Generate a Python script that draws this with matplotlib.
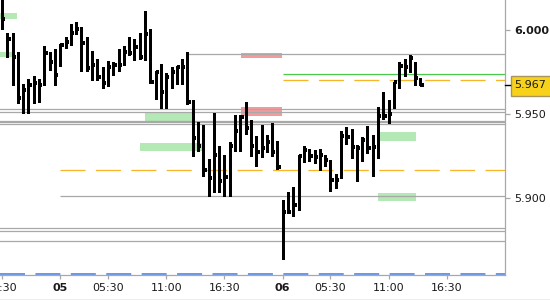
import matplotlib
matplotlib.use('Agg')
import matplotlib.pyplot as plt
from matplotlib.patches import Rectangle
from matplotlib.lines import Line2D

plt.rcParams['lines.scale_dashes'] = False
plt.rcParams['font.family'] = ['DejaVu Sans']

# ---- OHLC data (30-min bars) ----
highs = [6.0190, 5.9980, 5.9980, 5.9871, 5.9677, 5.9706, 5.9726, 5.9706, 5.9905, 5.9871,
         5.9885, 5.9917, 5.9960, 6.0036, 6.0046, 6.0016, 5.9960, 5.9877, 5.9826, 5.9782,
         5.9816, 5.9810, 5.9887, 5.9905, 5.9960, 5.9944, 5.9980, 6.0115, 6.0004, 5.9758,
         5.9796, 5.9742, 5.9782, 5.9788, 5.9826, 5.9871, 5.9583, 5.9450, 5.9435, 5.9232,
         5.9504, 5.9310, 5.9256, 5.9331, 5.9494, 5.9494, 5.9569, 5.9464, 5.9369, 5.9435,
         5.9375, 5.9448, 5.9339, 5.8988, 5.9034, 5.9068, 5.9256, 5.9310, 5.9290, 5.9286,
         5.9292, 5.9256, 5.9226, 5.9141, 5.9401, 5.9421, 5.9409, 5.9315, 5.9365, 5.9429,
         5.9375, 5.9544, 5.9633, 5.9583, 5.9692, 5.9812, 5.9827, 5.9851, 5.9812, 5.9712]
lows = [6.0004, 5.9841, 5.9673, 5.9564, 5.9504, 5.9504, 5.9564, 5.9573, 5.9673, 5.9762,
        5.9673, 5.9786, 5.9891, 5.9911, 5.9974, 5.9758, 5.9758, 5.9702, 5.9702, 5.9653,
        5.9667, 5.9732, 5.9756, 5.9792, 5.9851, 5.9822, 5.9826, 5.9822, 5.9683, 5.9587,
        5.9534, 5.9534, 5.9653, 5.9677, 5.9679, 5.9560, 5.9252, 5.9280, 5.9131, 5.9012,
        5.9038, 5.9038, 5.9012, 5.9012, 5.9280, 5.9280, 5.9381, 5.9252, 5.9191, 5.9246,
        5.9276, 5.9252, 5.9173, 5.8637, 5.8909, 5.8895, 5.8929, 5.9216, 5.9222, 5.9206,
        5.9167, 5.9190, 5.9044, 5.9058, 5.9117, 5.9321, 5.9236, 5.9103, 5.9222, 5.9266,
        5.9133, 5.9236, 5.9468, 5.9444, 5.9534, 5.9653, 5.9726, 5.9748, 5.9673, 5.9673]
closes = [6.0064, 5.9944, 5.9841, 5.9593, 5.9643, 5.9673, 5.9683, 5.9673, 5.9861, 5.9812,
          5.9732, 5.9911, 5.9931, 5.9980, 6.0004, 5.9925, 5.9772, 5.9792, 5.9722, 5.9683,
          5.9782, 5.9792, 5.9792, 5.9871, 5.9861, 5.9901, 5.9841, 5.9974, 5.9692, 5.9752,
          5.9633, 5.9722, 5.9752, 5.9782, 5.9782, 5.9573, 5.9355, 5.9310, 5.9167, 5.9121,
          5.9256, 5.9100, 5.9123, 5.9310, 5.9400, 5.9484, 5.9415, 5.9310, 5.9276, 5.9300,
          5.9335, 5.9276, 5.9187, 5.8915, 5.8919, 5.8958, 5.9250, 5.9286, 5.9250, 5.9246,
          5.9256, 5.9226, 5.9107, 5.9107, 5.9371, 5.9365, 5.9306, 5.9296, 5.9345, 5.9300,
          5.9302, 5.9488, 5.9488, 5.9500, 5.9692, 5.9786, 5.9782, 5.9831, 5.9712, 5.9673]

# ---- axis labels ----
x_tick_pos = [0, 11, 20, 31, 42, 53, 62, 73, 84]
x_tick_labels = ['16:30', '05', '05:30', '11:00', '16:30', '06', '05:30', '11:00', '16:30']
y_ticks = [5.900, 5.950, 6.000]
y_tick_labels = ['5.900', '5.950', '6.000']
last_price = 5.967

# ---- levels ----
gray_full_levels = [5.9530, 5.9510, 5.9461, 5.9452, 5.9440, 5.8823, 5.8805, 5.8744]
gray_partial_levels = [5.9857, 5.9012]
gray_partial_start = [35, 11]
orange_levels = [5.9165, 5.9701]
orange_start = [11, 53]
green_level = 5.9738
green_start = 53
blue_level = 5.8548

# zones: (x_start, x_end, y_low, y_high)
green_zones = [(-0.4, 2.83, 6.0064, 6.0099), (-0.4, 2.45, 5.9838, 5.9871),
               (27.0, 35.9, 5.9460, 5.9510), (26.05, 37.76, 5.9280, 5.9329),
               (71.04, 78.1, 5.9341, 5.9393), (71.04, 78.1, 5.8982, 5.9028)]
red_zones = [(45.1, 52.9, 5.9835, 5.9865), (45.1, 52.9, 5.9490, 5.9543)]

W, H = 550, 300
fig = plt.figure(figsize=(5.5, 3), dpi=100)
ax = fig.add_axes([0, 25 / H, 505 / W, 275 / H])
ax.set_xlim(-0.38, 94.96)
ax.set_ylim(5.85417, 6.01786)

for x0, x1, y0, y1 in green_zones:
    ax.add_patch(Rectangle((x0, y0), x1 - x0, y1 - y0, facecolor='#b4e8b4', edgecolor='none', zorder=1))
for x0, x1, y0, y1 in red_zones:
    ax.add_patch(Rectangle((x0, y0), x1 - x0, y1 - y0, facecolor='#f59a9a', edgecolor='none', zorder=1))

gray = '#a8a8a8'
for lv in gray_full_levels:
    ax.axhline(lv, color=gray, lw=0.9, zorder=2)
for lv, xs in zip(gray_partial_levels, gray_partial_start):
    ax.hlines(lv, xs, 94.96, color=gray, lw=0.9, zorder=2)
for lv, xs in zip(orange_levels, orange_start):
    ax.hlines(lv, xs, 94.96, color='#f7b62a', lw=0.9, linestyles=(0, (18, 7.5)), zorder=2)
ax.hlines(green_level, green_start, 94.96, color='#4cc84c', lw=0.9, zorder=2)
ax.axhline(blue_level, color='#5a8ef0', lw=1.3, linestyle=(0, (18, 7.5)), zorder=2)

idx = list(range(len(highs)))
ax.vlines(idx, lows, highs, color='black', lw=2.0, zorder=3, antialiased=False)
ax.hlines(closes, idx, [i + 0.62 for i in idx], color='black', lw=1.5, zorder=3, antialiased=False)

# axes styling
for s in ['top', 'left']:
    ax.spines[s].set_visible(False)
for s in ['right', 'bottom']:
    ax.spines[s].set_color(gray)
    ax.spines[s].set_linewidth(0.9)
ax.yaxis.tick_right()
ax.set_yticks(y_ticks)
ax.set_yticklabels(y_tick_labels)
ax.set_xticks(x_tick_pos)
ax.set_xticklabels(x_tick_labels)
ax.tick_params(axis='y', colors=gray, length=3.5, width=0.9, pad=3, labelsize=8, labelcolor='#1a1a1a')
ax.tick_params(axis='x', colors=gray, length=3, width=0.9, pad=2.5, labelsize=8, labelcolor='#1a1a1a')
for lab in ax.get_xticklabels():
    if lab.get_text() in ('05', '06'):
        lab.set_fontweight('bold')
for lab in ax.get_yticklabels():
    if lab.get_text() == '6.000':
        lab.set_fontweight('bold')

# last price marker
ypix = (6.01786 - last_price) * 1680
yf = 1 - ypix / H
fig.add_artist(Line2D([505 / W, 510 / W], [yf, yf], color='black', lw=1.0))
fig.add_artist(Rectangle((511 / W, 1 - 96 / H), 40 / W, 20 / H, facecolor='#f8d21a',
                         edgecolor='#a8955a', lw=1.0, transform=fig.transFigure))
fig.text(514 / W, yf, f'{last_price:.3f}', ha='left', va='center', fontsize=8, color='#1a1a1a')

# bottom frame line
fig.add_artist(Line2D([0, 1], [0.5 / H, 0.5 / H], color=gray, lw=1.0))

fig.savefig('out.png', dpi=100)
